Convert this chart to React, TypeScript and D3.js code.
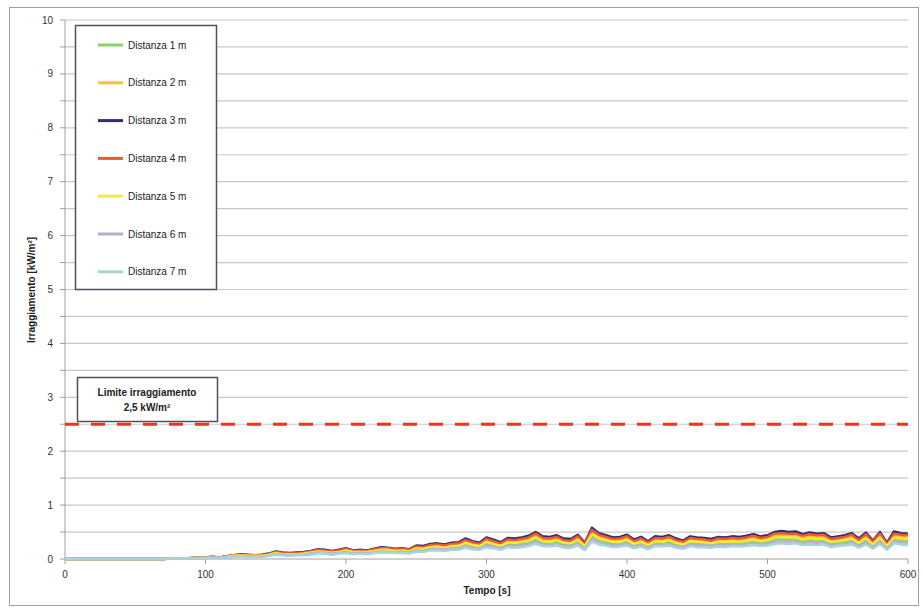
import React from "react";
import * as d3 from "d3";

const TIME: number[] = d3.range(0, 605, 5);

const SERIES_NAMES = ["Distanza 1 m", "Distanza 2 m", "Distanza 3 m", "Distanza 4 m", "Distanza 5 m", "Distanza 6 m", "Distanza 7 m"];
const SERIES_COLORS = ["#8fd16a", "#ffbe3c", "#2d2d70", "#f2582f", "#f8ea3a", "#b4b0cc", "#a8d4dc"];

const Z = [0, 0, 0, 0, 0, 0, 0, 0, 0, 0, 0, 0, 0, 0, 0];

const D1 = [0, 0, 0, 0, 0, 0, 0, 0, 0, 0, 0, 0, 0, 0, 0,
  .01, .01, .01, .01, .02, .02, .03, .02, .04, .05,
  .06, .06, .05, .06, .07, .10, .09, .08, .09, .09,
  .11, .13, .12, .11, .12, .14, .12, .12, .12, .14,
  .16, .15, .14, .14, .13, .18, .17, .20, .21, .19,
  .22, .22, .27, .24, .22, .29, .26, .22, .28, .27,
  .29, .31, .36, .30, .30, .32, .27, .27, .32, .22,
  .42, .35, .32, .29, .30, .32, .26, .30, .24, .30,
  .30, .32, .27, .24, .30, .29, .28, .27, .30, .29,
  .30, .30, .31, .33, .30, .32, .36, .37, .36, .37,
  .33, .35, .34, .35, .29, .30, .32, .35, .27, .35,
  .24, .36, .22, .37, .35, .34];

const D2 = [0, 0, 0, 0, 0, 0, 0, 0, 0, 0, 0, 0, 0, 0, 0,
  .01, .01, .01, .02, .03, .03, .03, .03, .04, .06,
  .08, .07, .06, .07, .09, .12, .10, .09, .10, .11,
  .13, .15, .15, .13, .15, .17, .14, .15, .14, .16,
  .19, .18, .16, .17, .15, .22, .21, .24, .25, .23,
  .26, .27, .33, .28, .26, .34, .31, .27, .34, .33,
  .34, .37, .43, .36, .35, .38, .33, .32, .39, .26,
  .50, .41, .38, .34, .35, .39, .31, .35, .28, .36,
  .35, .38, .33, .29, .36, .34, .34, .32, .35, .34,
  .36, .35, .37, .40, .36, .38, .43, .45, .43, .44,
  .40, .42, .40, .41, .34, .36, .38, .41, .33, .42,
  .29, .43, .26, .44, .41, .40];

const D3 = [0, 0, 0, 0, 0, 0, 0, 0, 0, 0, 0, 0, 0, 0, 0,
  .01, .01, .01, .02, .03, .03, .04, .03, .05, .07,
  .09, .08, .07, .08, .10, .14, .12, .11, .12, .13,
  .15, .18, .17, .15, .17, .20, .16, .17, .16, .19,
  .22, .21, .19, .20, .18, .25, .24, .28, .29, .27,
  .30, .31, .38, .33, .30, .40, .36, .31, .39, .38,
  .40, .43, .50, .42, .41, .44, .38, .37, .45, .30,
  .58, .48, .44, .40, .41, .45, .36, .41, .33, .42,
  .41, .44, .38, .34, .42, .40, .39, .37, .41, .40,
  .42, .41, .43, .46, .42, .44, .50, .52, .50, .51,
  .46, .49, .47, .48, .40, .42, .44, .48, .38, .49,
  .34, .50, .30, .51, .48, .47];

const D4 = [0, 0, 0, 0, 0, 0, 0, 0, 0, 0, 0, 0, 0, 0, 0,
  .01, .01, .01, .02, .03, .03, .04, .03, .05, .07,
  .08, .07, .07, .07, .09, .13, .11, .10, .11, .12,
  .14, .17, .16, .14, .16, .19, .15, .16, .15, .18,
  .20, .20, .18, .19, .17, .23, .22, .26, .27, .25,
  .28, .29, .35, .31, .28, .37, .33, .29, .36, .35,
  .37, .40, .47, .39, .38, .41, .35, .34, .42, .28,
  .54, .45, .41, .37, .38, .42, .33, .38, .31, .39,
  .38, .41, .35, .32, .39, .37, .36, .34, .38, .37,
  .39, .38, .40, .43, .39, .41, .47, .48, .47, .47,
  .43, .46, .44, .45, .37, .39, .41, .45, .35, .46,
  .32, .47, .28, .47, .45, .44];

const D5 = [0, 0, 0, 0, 0, 0, 0, 0, 0, 0, 0, 0, 0, 0, 0,
  .01, .01, .01, .02, .02, .02, .03, .02, .04, .06,
  .07, .06, .06, .06, .08, .11, .09, .09, .09, .10,
  .12, .14, .13, .12, .13, .16, .13, .13, .13, .15,
  .17, .17, .15, .16, .14, .20, .19, .22, .23, .21,
  .24, .24, .30, .26, .24, .32, .28, .24, .31, .30,
  .32, .34, .40, .33, .32, .35, .30, .29, .36, .24,
  .46, .38, .35, .32, .32, .36, .28, .32, .26, .33,
  .32, .35, .30, .27, .33, .32, .31, .29, .32, .32,
  .33, .32, .34, .36, .33, .35, .40, .41, .40, .40,
  .36, .39, .37, .38, .32, .33, .35, .38, .30, .39,
  .27, .40, .24, .40, .38, .37];

const D6 = [0, 0, 0, 0, 0, 0, 0, 0, 0, 0, 0, 0, 0, 0, 0,
  .01, .01, .01, .01, .02, .02, .03, .02, .03, .04,
  .06, .05, .04, .05, .06, .09, .08, .07, .08, .08,
  .10, .12, .11, .10, .11, .13, .10, .11, .10, .12,
  .14, .13, .12, .13, .12, .16, .15, .18, .19, .17,
  .19, .20, .24, .21, .19, .26, .23, .20, .25, .24,
  .26, .28, .32, .27, .26, .28, .24, .24, .29, .19,
  .37, .31, .28, .26, .26, .29, .23, .26, .21, .27,
  .26, .28, .24, .22, .27, .26, .25, .24, .26, .26,
  .27, .26, .28, .29, .27, .28, .32, .33, .32, .33,
  .29, .31, .30, .31, .26, .27, .28, .31, .24, .31,
  .22, .32, .19, .33, .31, .30];

const D7 = [0, 0, 0, 0, 0, 0, 0, 0, 0, 0, 0, 0, 0, 0, 0,
  .01, .01, .01, .01, .02, .02, .02, .02, .03, .04,
  .05, .04, .04, .04, .06, .08, .07, .06, .07, .07,
  .08, .10, .10, .08, .10, .11, .09, .10, .09, .11,
  .12, .12, .11, .11, .10, .14, .13, .16, .16, .15,
  .17, .17, .21, .18, .17, .22, .20, .17, .22, .21,
  .22, .24, .28, .24, .23, .25, .21, .21, .25, .17,
  .32, .27, .25, .22, .23, .25, .20, .23, .18, .24,
  .23, .25, .21, .19, .24, .22, .22, .21, .23, .22,
  .24, .23, .24, .26, .24, .25, .28, .29, .28, .29,
  .26, .27, .26, .27, .22, .24, .25, .27, .21, .27,
  .19, .28, .17, .29, .27, .26];

const SERIES = [D1, D2, D3, D4, D5, D6, D7];

const Y_TICKS = [0, 1, 2, 3, 4, 5, 6, 7, 8, 9, 10];
const Y_GRID = d3.range(0.5, 10.01, 0.5);
const X_TICKS = [0, 100, 200, 300, 400, 500, 600];
const LIMIT = 2.5;

const W = 922;
const H = 609;

export default function App() {
  const x = d3.scaleLinear().domain([0, 600]).range([65, 908]);
  const y = d3.scaleLinear().domain([0, 10]).range([559, 20]);
  const line = d3
    .line<number>()
    .x((_, i) => x(TIME[i]))
    .y((d) => y(d));

  const font = "'Liberation Sans Narrow', 'Arial Narrow', 'Liberation Sans', Arial, sans-serif";
  const font2 = "'Liberation Sans', Arial, sans-serif";

  return (
    <svg
      width={W}
      height={H}
      style={{ position: "absolute", left: 0, top: 0, background: "#fff" }}
    >
      <rect x={9.5} y={7.5} width={909} height={598} fill="#fff" stroke="#a0a0a0" strokeWidth={1} />
      {/* gridlines */}
      {Y_GRID.map((v) => (
        <line key={"g" + v} x1={65} x2={908} y1={y(v)} y2={y(v)} stroke="#c8c8c8" strokeWidth={1.2} />
      ))}
      {/* y axis */}
      <line x1={65} x2={65} y1={20} y2={559} stroke="#a0a0a0" strokeWidth={1} />
      {Y_GRID.concat([0]).map((v) => (
        <line key={"yt" + v} x1={60} x2={65} y1={y(v)} y2={y(v)} stroke="#a0a0a0" strokeWidth={1} />
      ))}
      {Y_TICKS.map((v) => (
        <text key={"yl" + v} x={53} y={y(v)} dy="0.35em" textAnchor="end" fontSize={10} fontFamily={font2} fill="#333">
          {v}
        </text>
      ))}
      {/* x axis */}
      <line x1={65} x2={908} y1={559} y2={559} stroke="#a0a0a0" strokeWidth={1} />
      {X_TICKS.map((v) => (
        <line key={"xt" + v} x1={x(v)} x2={x(v)} y1={559} y2={564} stroke="#a0a0a0" strokeWidth={1} />
      ))}
      {X_TICKS.map((v) => (
        <text key={"xl" + v} x={x(v)} y={578} textAnchor="middle" fontSize={10} fontFamily={font2} fill="#333">
          {v}
        </text>
      ))}
      <text x={487} y={594} textAnchor="middle" fontSize={10} fontWeight="bold" fontFamily={font} fill="#222">
        Tempo [s]
      </text>
      <text
        transform={`translate(35,290) rotate(-90)`}
        textAnchor="middle"
        fontSize={10}
        fontWeight="bold"
        fontFamily={font}
        fill="#222"
      >
        Irraggiamento [kW/m²]
      </text>
      {/* series */}
      {SERIES.map((s, i) => (
        <path key={"s" + i} d={line(s) || ""} fill="none" stroke={SERIES_COLORS[i]} strokeWidth={2.5} strokeLinejoin="round" />
      ))}
      {/* limit line */}
      <line x1={x(0)} x2={x(600)} y1={y(LIMIT)} y2={y(LIMIT)} stroke="#f5301e" strokeWidth={3} strokeDasharray="14 12" />
      {/* legend */}
      <rect x={75.5} y={25.5} width={141} height={264} fill="#fff" stroke="#505060" strokeWidth={1.5} />
      {SERIES_NAMES.map((n, i) => (
        <g key={"lg" + i} transform={`translate(0,${45 + i * 37.8})`}>
          <line x1={98} x2={123} y1={0} y2={0} stroke={SERIES_COLORS[i]} strokeWidth={3} />
          <text x={128} y={0} dy="0.35em" fontSize={10} fontFamily={font} fill="#222">
            {n}
          </text>
        </g>
      ))}
      {/* annotation */}
      <rect x={77.5} y={377.5} width={140} height={44} fill="#fff" stroke="#505060" strokeWidth={1.5} />
      <text x={147} y={396} textAnchor="middle" fontSize={10} fontWeight="bold" fontFamily={font} fill="#222">
        Limite irraggiamento
      </text>
      <text x={147} y={411} textAnchor="middle" fontSize={10} fontWeight="bold" fontFamily={font} fill="#222">
        2,5 kW/m²
      </text>
    </svg>
  );
}
